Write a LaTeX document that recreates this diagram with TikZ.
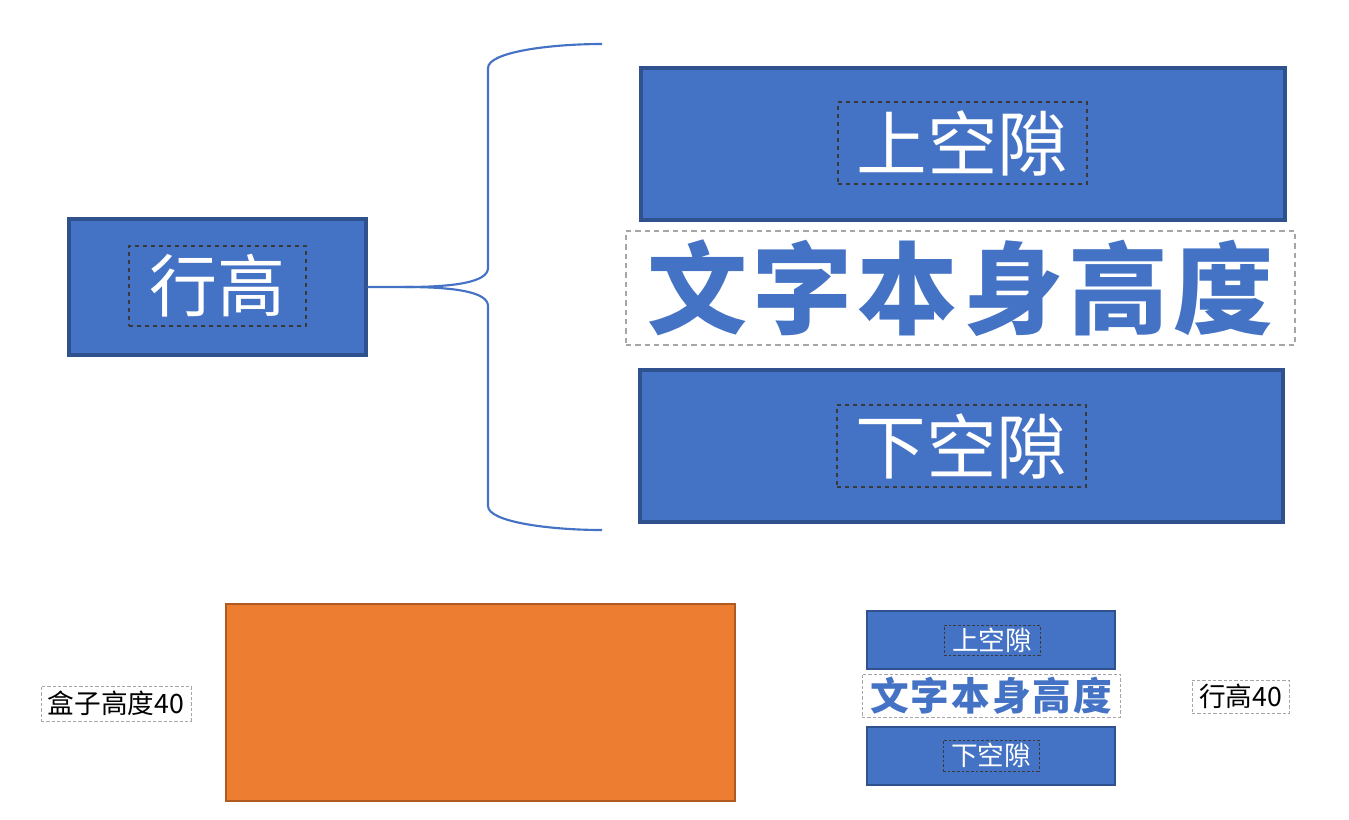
\documentclass[tikz,border=0pt]{standalone}
\usepackage{fontspec}
\newfontfamily\cjk{Noto Sans CJK SC}
\usetikzlibrary{fit}
\definecolor{boxblue}{HTML}{4472C4}
\definecolor{boxedge}{HTML}{2F528F}
\definecolor{boxorange}{HTML}{ED7D31}
\definecolor{orangeedge}{HTML}{AE5A21}
\definecolor{dashgray}{HTML}{A6A6A6}
\definecolor{innerdash}{HTML}{3A3A3A}
\tikzset{
  bluebox/.style={fill=boxblue, draw=boxedge, line width=2.4pt, inner sep=0pt},
  smallblue/.style={fill=boxblue, draw=boxedge, line width=1pt, inner sep=0pt},
  innerbox/.style={draw=innerdash, dashed, line width=1pt, inner sep=0pt},
  graybox/.style={draw=dashgray, dashed, line width=1pt, inner sep=0pt, dash pattern=on 4pt off 3pt},
  smallgray/.style={draw=dashgray, dashed, line width=0.6pt, inner sep=0pt, dash pattern=on 2.5pt off 1.5pt},
  whitetxt/.style={text=white, font=\cjk, inner sep=0pt},
  bracepath/.style={draw=boxblue, line width=1.6pt},
}
\begin{document}
\begin{tikzpicture}[x=0.75pt,y=-0.75pt]
\path[use as bounding box] (0,0) rectangle (1349,819);

% ---- top: line height box
\node[bluebox, fit={(69,219)(366,355)}] (hang) {};
\node[innerbox, fit={(129,246)(306,326)}] (hangin) {};
\node[whitetxt, font=\cjk\fontsize{51}{60}\selectfont] at (hangin) {行高};

% ---- upper gap
\node[bluebox, fit={(641,68)(1285,220)}] (up) {};
\node[innerbox, fit={(838,102)(1087,184)}] (upin) {};
\node[whitetxt, font=\cjk\fontsize{53}{60}\selectfont] at (upin) {上空隙};

% ---- text height
\node[graybox, fit={(626,231)(1295,345)}] (mid) {};
\node[text=boxblue, font=\cjk\bfseries\fontsize{75}{80}\selectfont, inner sep=0pt] at (mid) {文\hspace{4pt}字\hspace{4pt}本\hspace{4pt}身\hspace{4pt}高\hspace{4pt}度};

% ---- lower gap
\node[bluebox, fit={(640,370)(1283,522)}] (down) {};
\node[innerbox, fit={(837,405)(1086,487)}] (downin) {};
\node[whitetxt, font=\cjk\fontsize{53}{60}\selectfont] at (downin) {下空隙};

% ---- brace
\coordinate (brtop) at (602,44);
\coordinate (brbot) at (602,530);
\draw[bracepath] (hang.east) -- (405,287)
  .. controls (455,287) and (488,282) .. (488,268)
  -- (488,68)
  .. controls (488,52) and (550,44) .. (brtop);
\draw[bracepath] (405,287)
  .. controls (455,287) and (488,292) .. (488,306)
  -- (488,506)
  .. controls (488,522) and (550,530) .. (brbot);

% ---- bottom left: box height
\node[fill=boxorange, draw=orangeedge, line width=1.2pt, inner sep=0pt, fit={(226,604)(735,801)}] (orange) {};
\node[smallgray, minimum width=150*0.75pt, minimum height=35*0.75pt, font=\cjk\fontsize{20}{24}\selectfont] (boxh) at (116,703.5) {盒子高度40};

% ---- bottom right: small line model
\node[smallblue, fit={(867,611)(1115,669)}] (sup) {};
\node[innerbox, line width=0.6pt, dash pattern=on 2pt off 1.5pt, fit={(944,625)(1040,655)}] (supin) {};
\node[whitetxt, font=\cjk\fontsize{20}{24}\selectfont] at (supin) {上空隙};

\node[smallgray, fit={(862,674)(1120,717)}] (smid) {};
\node[text=boxblue, font=\cjk\bfseries\fontsize{29}{34}\selectfont, inner sep=0pt] at (smid) {文\hspace{1.5pt}字\hspace{1.5pt}本\hspace{1.5pt}身\hspace{1.5pt}高\hspace{1.5pt}度};

\node[smallblue, fit={(867,727)(1115,785)}] (sdown) {};
\node[innerbox, line width=0.6pt, dash pattern=on 2pt off 1.5pt, fit={(943,740)(1039,771)}] (sdownin) {};
\node[whitetxt, font=\cjk\fontsize{20}{24}\selectfont] at (sdownin) {下空隙};

\node[smallgray, minimum width=97*0.75pt, minimum height=33*0.75pt, font=\cjk\fontsize{20}{24}\selectfont] (lh) at (1240.5,696.5) {行高40};
\end{tikzpicture}
\end{document}
